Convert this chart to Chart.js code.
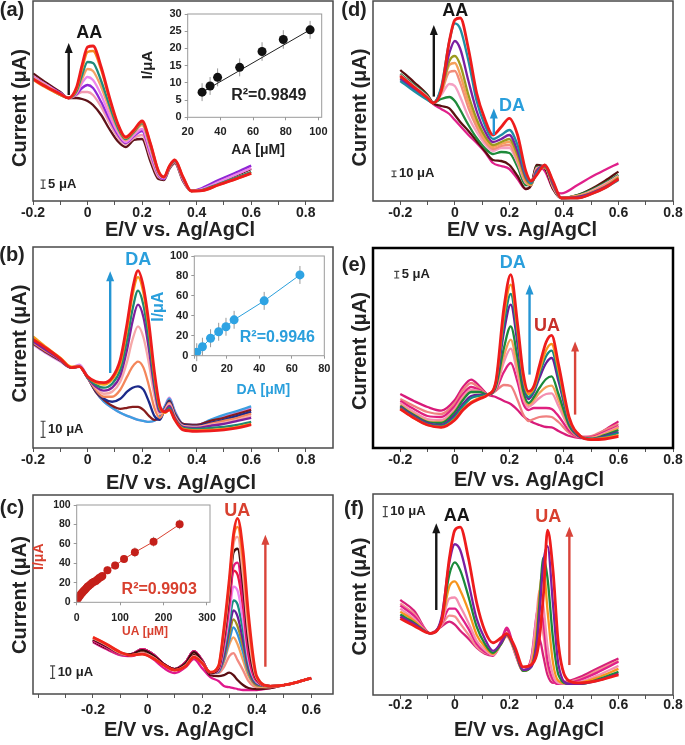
<!DOCTYPE html>
<html><head><meta charset="utf-8">
<script src="https://cdn.jsdelivr.net/npm/chart.js@4.4.1/dist/chart.umd.min.js"></script>
<style>
html,body{margin:0;padding:0;background:#fff;}
#wrap{position:relative;width:685px;height:745px;overflow:hidden;background:#fff;}
#wrap canvas{position:absolute;}
</style></head><body><div id="wrap"></div>
<script>
const FONT = '"Liberation Sans", Arial, Helvetica, sans-serif';

// ---------- x-axis ticks ----------
const xTicksMain = [-0.2,-0.1,0,0.1,0.2,0.3,0.4,0.5,0.6,0.7,0.8];
const xLabelsMain = ['-0.2','','0','','0.2','','0.4','','0.6','','0.8'];
const xTicksC = [-0.4,-0.3,-0.2,-0.1,0,0.1,0.2,0.3,0.4,0.5,0.6];
const xLabelsC = ['','','-0.2','','0','','0.2','','0.4','','0.6'];

// ---------- panel (a): AA ----------
const aPotential = [-0.2,-0.15,-0.1,-0.07,-0.04,-0.02,0,0.02,0.05,0.08,0.11,0.14,0.17,0.2,0.23,0.26,0.28,0.3,0.32,0.35,0.38,0.42,0.48,0.54,0.6];
const aRed    = [61,57,53.5,51.5,57,68,77,77.5,67,52,39,32,35.5,40,29,15,12,17.5,20.5,12,5,5.2,8,10.8,13.8];
const aOrange = [60.5,56.5,53,51.5,56,66,74.5,75,65.5,51,38.5,31.5,35,39.5,29,15,12,17.5,20.5,12,5,5.2,8,10.8,13.8];
const aTeal   = [61,57,53,51.5,55,63,69.5,69,60,48,37,31,34.5,39,28,14.5,12,17,20,11.5,5,5.5,8.5,11.5,14.5];
const aSandy  = [61.5,57.5,53.5,51.5,54.5,61,66,65,57,46,36,30.5,34,38,27,14,12,17,20,11.5,5,5.5,8.5,11.5,14.5];
const aViolet = [62,58,53.5,51.5,54,59,62,60.5,53,43,34.5,29.5,33,36,25,13.5,11.5,17,20,11,5,6,9.5,13,16.5];
const aPurple = [62,58,54,51.5,53.5,56.5,58,56.5,49.5,41,33.5,29,32.5,35,24,13,11,17,20,11,5,6.5,10.5,14,17.7];
const aPink   = [62.5,58,54,51.5,53,54.5,54.5,53,47,39,32,28.5,31.5,33,22,12,11,16.5,19.5,10.5,5,6,9.5,13,16.5];
const aBrown  = [63.8,59,54.5,51.5,51.5,51,50,48,43,36,30,27,30.5,31,20,11,10.5,16,19,10,5,6,9,12.5,16];
const aSeries = [aRed,aOrange,aTeal,aSandy,aViolet,aPurple,aPink,aBrown];
const aColors = ['#ee1c1c','#f7861e','#1f8b7c','#f5a266','#ec84ec','#8f27d6','#f29bb0','#5e1218'];

// ---------- panel (b): DA ----------
const bPotential = [-0.2,-0.15,-0.1,-0.06,-0.03,0,0.03,0.06,0.09,0.12,0.145,0.165,0.185,0.205,0.225,0.245,0.265,0.285,0.3,0.32,0.35,0.4,0.45,0.5,0.55,0.6];
const bRed     = [54,49.5,44.5,40,40.5,35.5,33,32.5,35,44,62,79,88.2,80,62,38,21,18,19,14,9,8.3,8.5,9,10,11.6];
const bOrange  = [55.5,50,45,40.5,40.5,35.5,32.5,31.5,34,42,59,76,85,77,59,36,20,17.5,19,14,9.5,8.8,9,9.5,10.5,12];
const bTeal    = [54.5,49.5,44.5,40,40.5,35,31.5,30,32,39,54,69,78.3,71,54,33,19,18,20,14.5,10,9.5,10,10.5,11.5,13];
const bPurple  = [53,48.5,44,40,40.5,35,30.5,28.5,30,36,49,63,71.3,65,49,30,18,18.5,21,15,10.5,10,11,12,13.5,15];
const bLtPink  = [53,48.5,44,40,40.5,35,30,27,28,33,43,54,60.5,55,42,26,17,19,22,15.5,11,10.5,11.5,12.5,14,16];
const bSalmon  = [52.5,48,44,40,40.5,35,29,25.5,25.5,29,35.5,40.5,43,40,31,20,15,19.5,22.5,16,11,10.5,12,13.5,15,17];
const bNavy    = [52.5,48,44,40,40.5,35,28.5,24.5,23,24.5,28,30,30.7,29,23,16,14,20,23,16.5,11.5,11,12.5,14,16,18];
const bMaroon  = [52,47.5,43.5,40,40.5,35,28,24,21,19.5,20,20.5,20.5,19,16,14,14.5,20,23.5,17,12,11.5,13.5,15,17,19];
const bLtBlue  = [52,47.5,43.5,40,40.5,35.5,28,23,20,17.5,16,15,14,13.5,13,13.5,16,21,24.5,18,12,11.5,14,16.5,18.5,20.7];
const bMagenta = [51.5,47,43,40,41.5,35.5,28,23,20,17.5,16,15,14,13.5,13,13.5,16,21.5,25,18.5,12,11.5,13.5,16,18,20];
const bSeries = [bRed,bOrange,bTeal,bPurple,bLtPink,bSalmon,bNavy,bMaroon,bLtBlue,bMagenta];
const bColors = ['#ee1c1c','#f59a16','#1e8a70','#7e1f9e','#f6a8a8','#f4865a','#1c2a8a','#861c1c','#3d9fe0','#df86df'];

// ---------- panel (c): UA ----------
const cPotential = [-0.2,-0.15,-0.1,-0.06,-0.02,0.02,0.06,0.1,0.14,0.17,0.2,0.23,0.26,0.28,0.3,0.315,0.33,0.35,0.37,0.4,0.45,0.5,0.55,0.6];
const cRed      = [28.5,25,21,19.5,20,18,14.5,12,14,18.5,15.5,11,14,33,58,80,88.3,72,40,9,4,4.5,6,8];
const cOrange   = [28.5,25,21,19.5,20,18,14.5,12,14,18.5,15.5,11,14,32,56,78,84,67,36,8.5,4,4.5,6,8];
const cLtSalmon = [28,24.5,20.5,19.5,20.5,18.5,14.5,12,14.5,19,16,11,13.5,30,54,75,79,60,30,8,4,4.5,6,8];
const cDkMaroon = [27.5,24,20.5,20,22,19.5,15,12.5,15.5,21,16.5,10.5,13,28,51,71,73,55,26,7.5,4,4.5,6,8];
const cMagenta  = [27,23.5,20,20,22.5,20,15,12.5,16,21.5,17,10.5,12.5,26,47,64,66,48,22,7,4,4.5,6,8];
const cCrimson  = [27,23.5,20,20,22.5,20,15,12.5,16,21.5,17,10.5,12.5,25,45,62,60,44,20,6.5,4,4.5,6,8];
const cViolet   = [27,23.5,20,20,22.5,20,15,12.5,16,21.5,17,10.5,12,23,40,54,52,37,17,6,4,4.5,6,8];
const cTeal     = [27,23.5,20,20,22.5,20,15,12.5,16,21.5,17,10.5,12,21,36,47,45,32,15,5.5,4,4.5,6,8];
const cPurple   = [27,23.5,20,20,22.5,20,15,12.5,16,21.5,17,10.5,11.5,19,33,42,39,27,13,5,4,4.5,6,8];
const cOlive    = [27,23.5,20,20,22.5,20,15,12.5,16,21.5,17,10.5,11.5,18,30,37.5,34,24,11.5,4.5,4,4.5,6,8];
const cBlue     = [27,23.5,20,20,22.5,20,15,12.5,16,21.5,17,10.5,11,17,27,33.5,30,21,10.5,4.5,4,4.5,6,8];
const cSandy    = [27,23.5,20,20,22,19.5,15,12.5,15.5,21,16.5,10.5,11,16,25,28.5,25,17,9,4,3.5,4.5,6,8];
const cSalmon   = [27,23.5,20,20,22,19.5,15,12.5,15.5,21,16.5,10.5,10.5,13.5,19,20.5,17,12,6.5,3.5,3.5,4.5,6,8];
const cMaroon2  = [26.5,23,20,19.5,21.5,19,14.5,12,15,20,16,9.5,9,9.5,10.7,9.5,7,4.5,3,2.5,3,4.5,6,8];
const cMagBase  = [26,22.5,19.5,19,20.5,17.5,13,10.5,13.5,17.5,13,8.5,6.5,4,3.4,3,2.5,2,2,2,3,4.5,6,8];
const cSeries = [cRed,cOrange,cLtSalmon,cDkMaroon,cMagenta,cCrimson,cViolet,cTeal,cPurple,cOlive,cBlue,cSandy,cSalmon,cMaroon2,cMagBase];
const cColors = ['#f0261c','#f98a2c','#f7a4a0','#3d0c0c','#e4197f','#e9183f','#ee86ee','#178f82','#6a1b9a','#a48d22','#2f8fd8','#f5a25d','#f28b82','#5b0e12','#e0188c'];

// ---------- panel (d): AA + DA ----------
const dPotential = [-0.2,-0.15,-0.1,-0.08,-0.05,-0.02,0,0.02,0.05,0.08,0.11,0.14,0.17,0.2,0.23,0.26,0.28,0.3,0.33,0.36,0.39,0.45,0.5,0.55,0.6];
const dRed     = [62.5,57,51.5,49,55,80,90.5,91.5,76,54,41,33,37,41.3,33,15,10,13,18,10,1.5,1.5,3.5,6.5,11];
const dTeal    = [60,55,50.5,49,57,80,88.8,86,70,50,38,31,33,35.5,28,13,9,14,18,9.5,1.5,1.5,3.5,6.5,10.5];
const dPurple  = [61,56,51,49,56,74,80,76,60,45,35,29.5,31,33,25,12,9,15,17.5,8.5,1.5,2,4,7,11];
const dOlive   = [61.5,56.5,51,49,55,70,72.5,68,53,41,32.5,28,29.5,31,23,11,8.5,15,17,8,1.5,2,4,7,11.5];
const dSandy   = [62,57,51.5,49,54.5,68,69,63,49.5,39,31,27,28.5,29.5,21.5,10,8,15.5,17,8,1.5,2.5,4.5,7.5,12];
const dSalmon  = [62.5,57,51.5,49,54,64.5,65,59,46.5,37,30,26,27.5,28,20,9.5,8,16,17,7.5,1.5,2.5,4.5,8,12];
const dPink    = [63,57.5,52,49,53,58.5,57.5,52,42,34.5,28.5,25,26.5,26.5,19,9,8,16.5,17,7,1.5,2.5,5,8.5,12.5];
const dGreen   = [63.5,58,52.5,49,51,52,50,45.5,38,31.5,26.5,23.5,24.5,24,17,8,8,17,17,7,1.5,3,5.5,9,13];
const dBrown   = [65.5,59.5,53,49,47.5,46.3,43,39.5,35,30,25,20.5,20,18,12.5,6,8,18,16.5,6,1.5,3,6,10,14.7];
const dMagenta = [63,58,52,48.5,46,43.5,40.5,37.5,33,29,24.5,19,17.5,16,11,6,8,17.5,15,6,3.8,8,12,15.5,18.8];
const dSeries = [dRed,dTeal,dPurple,dOlive,dSandy,dSalmon,dPink,dGreen,dBrown,dMagenta];
const dColors = ['#ee1c1c','#1f8ea3','#7b1fa2','#9c9a1e','#f5a05a','#f28d7a','#f5a0c3','#1e8a3a','#5a1010','#e0208a'];

// ---------- panel (e): DA + UA ----------
const ePotential = [-0.2,-0.15,-0.1,-0.05,0,0.03,0.06,0.09,0.12,0.15,0.18,0.205,0.23,0.25,0.27,0.29,0.31,0.335,0.355,0.38,0.42,0.46,0.5,0.55,0.6];
const eRed      = [19.5,15,11.5,10.3,14,19,22.5,24.5,26.5,33,70,86.7,62,38,28.3,31,41,53,56.3,42,15,6,4.2,4.5,5.8];
const eOrange   = [19.5,15,11.5,10.5,14.5,19.5,23,25,26.7,32.5,66,81.7,59,36,27,30,38.5,49,52,39,14,6,4.3,5,6.5];
const eTeal     = [20,15.5,12,11,15.5,21,25,26,26.7,32,62,77,56,34.5,25.5,29,37,46,48.7,36,13,6,4.5,5.5,7.5];
const ePurple   = [20.5,16,12.5,11.5,16.5,22,26,26.5,26.7,31.5,58,71.7,52,33,24.5,28,35,42.5,45,33.5,12.5,5.5,4.5,6,8];
const eGreen    = [21,16.5,13,12.5,18,24,28,28,26.7,30.5,50,60.8,45,29,22.5,25.5,30,34.5,35.8,27,11,5.5,4.5,6.5,9];
const eSandy    = [21.5,17,13.5,13,18.5,24.5,28,28,26.7,30,46,54.2,40,27,21.5,24,27.5,30.5,31.2,24,10.5,5.5,5,7,10];
const ePink     = [22.5,18,14.5,14,19.5,25.5,29,28.5,26.7,29.5,43,49.7,37,25,20.5,22.5,25,27,27.3,21,10,5.5,5,7.5,10.5];
const eMagenta  = [23.5,19.5,16,15.5,21,27,30.5,29,26.7,29,38,42.5,33,22.5,19,20,20,20,19.5,16,8.5,5.5,5.5,8,11];
const eSalmon   = [24.5,21,18,17,22.5,29,32.5,30,26.7,28.5,31.5,31,24,17,13.5,14.5,15.5,15.8,15.5,13,7.5,5.5,6,9,12];
const eDeepPink = [27,23.5,20.5,18.7,24,30.5,34.2,31,26.7,25.5,23.5,22,19,16,14,12.5,11.5,10.5,10.3,8.5,6,5,5,9,13.3];
const eSeries = [eRed,eOrange,eTeal,ePurple,eGreen,eSandy,ePink,eMagenta,eSalmon,eDeepPink];
const eColors = ['#ee1c1c','#f7941d','#128a80','#6a1b9a','#1a8a3a','#f5a05a','#f48fb1','#e0207f','#f08080','#d81b7a'];

// ---------- panel (f): AA + UA ----------
const fPotential = [-0.2,-0.15,-0.09,-0.05,-0.02,0,0.02,0.05,0.08,0.11,0.14,0.17,0.19,0.22,0.25,0.28,0.3,0.31,0.325,0.34,0.36,0.38,0.42,0.46,0.52,0.6];
const fRed      = [38,34.5,30.7,36,68,82,83.5,68,46,32,26,28.5,30.5,24,14,15,20,28,50,82,62,25,7,6,7,10];
const fPurple   = [39,35.5,30.7,38,66,75,72,56,38,28,22,26,30,23,12.5,14,25,40,66,74,45,15,5.5,5.5,7,10.5];
const fGreen    = [40,36,30.7,37,60,66,62,49,34,25.5,21,25.5,30,22.5,12,14,27,45,68.5,58,28,10,5.5,5.5,7.5,11.5];
const fOrange   = [41.5,37,30.7,36,54,56.5,52,42,30,24,20.5,25.5,29.5,22,12,15,32,50,63,42,16,7,5.5,6,8.5,13];
const fLtPink   = [43,38,30.7,35,48,48.5,44,36,27,22.5,20,25.5,29,21.5,12,17,40,52,44,24,10,6,5.5,6.5,9.5,14.5];
const fMagenta  = [44.5,39.5,30.7,35,43,43,39.5,33,25.5,21.5,20,27,33.5,22,12,18,40,45.5,36,17,7.5,5.5,6,7.5,11,16.5];
const fSalmon   = [45.5,40.5,30.7,34.5,39.5,39,35.5,30,24,21,20,26,31,21.5,12,18,35,39.8,30,14,7,5.5,6.5,8,12,17];
const fDeepPink = [47.3,42,30.7,34,36.5,35,32,28,23.5,20.5,19.5,26,32.5,21,12,17,27,28,19,10,6,6,7,9,13,18.2];
const fSeries = [fRed,fPurple,fGreen,fOrange,fLtPink,fMagenta,fSalmon,fDeepPink];
const fColors = ['#ee1c1c','#7b1fa2','#1a8a3a','#f7941d','#f48fb1','#e0208a','#f49090','#d6207a'];

// ---------- insets (calibration plots) ----------
const aaConc    = [28.8,33.7,38.3,51.8,65.5,78.5,94.9];
const aaCurrent = [7.3,9.1,11.6,14.5,19.1,22.6,25.4];
const aaError   = [2.6,2.6,2.6,2.6,2.7,2.7,2.6];
const aaFitConc = [27,97];
const aaFitCurrent = [6.8,26];
const aaTicksX = [20,40,60,80,100];
const aaTicksY = [0,5,10,15,20,25,30];

const daConc    = [1.5,5,10,15,19.5,24.5,43,65];
const daCurrent = [3.5,9,17.5,24,29,36,55,81];
const daError   = [9,9,9,9,9,9,9,9];
const daTicksX = [0,20,40,60,80];
const daTicksY = [0,20,40,60,80,100];

const uaConc    = [1.5,3,5,7.5,10,13,16,19,22,25,28,32,36,40,44,48,52,56,59,70.8,88.5,109,134,177,237];
const uaCurrent = [3.5,4.5,5.5,7,8.5,10,11.5,13,14.5,16,17,18.5,20,21,22,23.5,25,26,27,32.9,37.7,44.5,51.4,62.3,80.1];
const uaError   = [3,3,3,3,3,3,3,3,3,3,3,3,3,3,3,3,3,3,3,4,4,4,5,5,5];
const uaTicksX = [0,100,200,300];
const uaTicksY = [0,20,40,60,80,100];

// ---------- helpers ----------
function check(xs, list, name){
  list.forEach((s,i)=>{ if(s.length!==xs.length) throw new Error(name+' series '+i+' has '+s.length+' points, expected '+xs.length); });
}
check(aPotential,aSeries,'a'); check(bPotential,bSeries,'b'); check(cPotential,cSeries,'c');
check(dPotential,dSeries,'d'); check(ePotential,eSeries,'e'); check(fPotential,fSeries,'f');
check(aaConc,[aaCurrent,aaError],'aa'); check(daConc,[daCurrent,daError],'da'); check(uaConc,[uaCurrent,uaError],'ua');

function pts(xs, ys){ return xs.map((x,i)=>({x:x, y:ys[i]})); }

function makeCanvas(id, left, top, w, h){
  const c = document.createElement('canvas');
  c.id = id; c.width = w; c.height = h;
  c.style.left = left+'px'; c.style.top = top+'px';
  c.style.width = w+'px'; c.style.height = h+'px';
  document.getElementById('wrap').appendChild(c);
  return c;
}

function decorPlugin(cfg){
  return {
    id: 'decor',
    beforeDatasetsDraw(chart){
      const e = cfg.errors; if(!e) return;
      const ctx = chart.ctx, sx = chart.scales.x, sy = chart.scales.y;
      ctx.save(); ctx.strokeStyle = e.color; ctx.lineWidth = 1;
      e.xs.forEach((xv,i)=>{
        const px = sx.getPixelForValue(xv);
        ctx.beginPath();
        ctx.moveTo(px, sy.getPixelForValue(e.ys[i]-e.err[i]));
        ctx.lineTo(px, sy.getPixelForValue(e.ys[i]+e.err[i]));
        ctx.stroke();
      });
      ctx.restore();
    },
    afterDatasetsDraw(chart){
      const ctx = chart.ctx, a = chart.chartArea, sx = chart.scales.x, sy = chart.scales.y;
      ctx.save();
      if (cfg.frame){
        ctx.strokeStyle = cfg.frame.color; ctx.lineWidth = cfg.frame.width;
        ctx.strokeRect(a.left, a.top, a.right-a.left, a.bottom-a.top);
      }
      (cfg.arrows||[]).forEach(r=>{
        const px = sx.getPixelForValue(r.x), p0 = sy.getPixelForValue(r.y0), p1 = sy.getPixelForValue(r.y1);
        ctx.strokeStyle = r.color; ctx.fillStyle = r.color; ctx.lineWidth = 2.4;
        ctx.beginPath(); ctx.moveTo(px, p0); ctx.lineTo(px, p1+6); ctx.stroke();
        ctx.beginPath(); ctx.moveTo(px, p1); ctx.lineTo(px-4, p1+10); ctx.lineTo(px+4, p1+10); ctx.closePath(); ctx.fill();
      });
      if (cfg.bar){
        const b = cfg.bar;
        const px = sx.getPixelForValue(b.x), p0 = sy.getPixelForValue(b.y0), p1 = sy.getPixelForValue(b.y1);
        ctx.strokeStyle = '#444'; ctx.lineWidth = 1.2;
        ctx.beginPath();
        ctx.moveTo(px,p0); ctx.lineTo(px,p1);
        ctx.moveTo(px-2.5,p0); ctx.lineTo(px+2.5,p0);
        ctx.moveTo(px-2.5,p1); ctx.lineTo(px+2.5,p1);
        ctx.stroke();
        ctx.fillStyle = '#222'; ctx.font = 'bold 13px '+FONT; ctx.textAlign = 'left'; ctx.textBaseline = 'middle';
        ctx.fillText(b.t, px+5, (p0+p1)/2);
      }
      (cfg.texts||[]).forEach(t=>{
        let px = t.px, py = t.py;
        if (t.x !== undefined){ px = sx.getPixelForValue(t.x); py = sy.getPixelForValue(t.y); }
        ctx.save(); ctx.translate(px, py); if (t.rot) ctx.rotate(t.rot);
        ctx.font = t.font; ctx.fillStyle = t.color || '#222';
        ctx.textAlign = 'center'; ctx.textBaseline = 'middle';
        ctx.fillText(t.t, 0, 0); ctx.restore();
      });
      ctx.restore();
    }
  };
}

function mainChart(p){
  const c = makeCanvas('panel_'+p.id, p.left, p.top, p.w, p.h);
  const datasets = p.series.map((ys,i)=>({
    data: pts(p.xs, ys), borderColor: p.colors[i], borderWidth: i===0 ? 2.8 : 2.3,
    pointRadius: 0, fill: false, cubicInterpolationMode: 'monotone'
  }));
  const texts = [
    {t:p.letter, px:p.letterPos[0], py:p.letterPos[1], font:'bold 20px '+FONT, color:'#222'},
    {t:'Current (μA)', px:20, py:p.yTitleY, rot:-Math.PI/2, font:'bold 20px '+FONT, color:'#222'},
    {t:'E/V vs. Ag/AgCl', px:p.xTitlePos[0], py:p.xTitlePos[1], font:'bold 20px '+FONT, color:'#222'}
  ].concat(p.notes.map(n=>({t:n.t, x:n.x, y:n.y, color:n.color, font:'bold 18px '+FONT})));
  new Chart(c, {
    type: 'line',
    data: {datasets},
    options: {
      responsive:false, animation:false, devicePixelRatio:1, events:[],
      layout:{padding:{left:p.pad[0], top:p.pad[1], right:p.pad[2], bottom:0}},
      plugins:{legend:{display:false}, tooltip:{enabled:false}},
      scales:{
        x:{type:'linear', min:p.min, max:p.max,
          afterFit:s=>{ s.height = p.xAxisH; s.paddingLeft = 0; s.paddingRight = 0; },
          afterBuildTicks:s=>{ s.ticks = p.ticks.map(v=>({value:v})); },
          ticks:{autoSkip:false, maxRotation:0, minRotation:0, padding:p.tickPad, color:'#222',
            font:{family:FONT, size:14, weight:'bold'}, callback:(v,i)=>p.tickLabels[i]},
          grid:{display:true, drawOnChartArea:false, drawTicks:true, tickLength:4, color:'#555', lineWidth:1},
          border:{display:false}
        },
        y:{type:'linear', min:0, max:100, display:false}
      }
    },
    plugins:[decorPlugin({frame:p.frame, arrows:p.arrows, bar:p.bar, texts})]
  });
}

function insetChart(q){
  const c = makeCanvas('inset_'+q.id, q.left, q.top, q.w, q.h);
  const datasets = [{
    type:'scatter', data: pts(q.xs, q.ys), showLine: q.connect, borderColor: q.lineColor, borderWidth: 1,
    backgroundColor: q.dotColor, pointRadius: q.r, pointBorderWidth: 0
  }];
  if (q.fitX) datasets.push({type:'line', data: pts(q.fitX, q.fitY), borderColor: q.lineColor, borderWidth: 1, pointRadius: 0});
  const tickFont = {family:FONT, size:q.fs, weight:'bold'};
  new Chart(c, {
    type:'scatter',
    data:{datasets},
    options:{
      responsive:false, animation:false, devicePixelRatio:1, events:[],
      layout:{padding:{left:0, top:q.pad[0], right:q.pad[1], bottom:0}},
      plugins:{legend:{display:false}, tooltip:{enabled:false}},
      scales:{
        x:{type:'linear', min:q.xMin, max:q.xMax,
          afterFit:s=>{ s.height = q.xH; s.paddingLeft = 0; s.paddingRight = 0; },
          afterBuildTicks:s=>{ s.ticks = q.xTicks.map(v=>({value:v})); },
          ticks:{autoSkip:false, maxRotation:0, padding:q.xPad, color:'#222', font:tickFont, callback:(v,i)=>String(q.xTicks[i])},
          grid:{display:true, drawOnChartArea:false, tickLength:3, color:'#999'}, border:{display:false}},
        y:{type:'linear', min:q.yMin, max:q.yMax,
          afterFit:s=>{ s.width = q.yW; s.paddingTop = 0; s.paddingBottom = 0; },
          afterBuildTicks:s=>{ s.ticks = q.yTicks.map(v=>({value:v})); },
          ticks:{autoSkip:false, padding:3, color:'#222', font:tickFont, callback:(v,i)=>String(q.yTicks[i])},
          grid:{display:true, drawOnChartArea:false, tickLength:3, color:'#999'}, border:{display:false}}
      }
    },
    plugins:[decorPlugin({
      frame:{color:'#9a9a9a', width:1},
      errors:{xs:q.xs, ys:q.ys, err:q.err, color:'#999'},
      texts:[
        {t:'I/μA', px:q.yTitle[0], py:q.yTitle[1], rot:-Math.PI/2, font:'bold '+q.yTitle[2]+'px '+FONT, color:q.titleColor},
        {t:q.xTitleText, px:q.xTitle[0], py:q.xTitle[1], font:'bold '+q.xTitle[2]+'px '+FONT, color:q.titleColor},
        {t:q.r2, x:q.r2Pos[0], y:q.r2Pos[1], font:'bold 16px '+FONT, color:q.titleColor}
      ]
    })]
  });
}

const BLACK = '#151515', BLUE = '#2a9fdc', RED = '#d8402f';
const grayFrame = {color:'#4a4a4a', width:1.5};

mainChart({id:'a', left:0, top:0, w:340, h:247, pad:[33,1,7], xAxisH:46, min:-0.2, max:0.9,
  ticks:xTicksMain, tickLabels:xLabelsMain, tickPad:0, xs:aPotential, series:aSeries, colors:aColors, frame:grayFrame,
  letter:'(a)', letterPos:[12,10], yTitleY:108, xTitlePos:[180,230],
  notes:[{t:'AA', x:0.006, y:83.8, color:BLACK}],
  arrows:[{x:-0.069, y0:53, y1:79, color:BLACK}],
  bar:{x:-0.163, y0:6.3, y1:10.5, t:'5 μA'}});

mainChart({id:'b', left:0, top:245, w:340, h:250, pad:[33,2,7], xAxisH:47, min:-0.2, max:0.9,
  ticks:xTicksMain, tickLabels:xLabelsMain, tickPad:0, xs:bPotential, series:bSeries, colors:bColors, frame:grayFrame,
  letter:'(b)', letterPos:[12,10], yTitleY:98.5, xTitlePos:[181,238],
  notes:[{t:'DA', x:0.186, y:93.7, color:BLUE}],
  arrows:[{x:0.083, y0:37.3, y1:87.9, color:'#2596d4'}],
  bar:{x:-0.163, y0:5.3, y1:13.3, t:'10 μA'}});

mainChart({id:'c', left:0, top:490, w:340, h:255, pad:[33,5,7], xAxisH:51, min:-0.42, max:0.68,
  ticks:xTicksC, tickLabels:xLabelsC, tickPad:3.5, xs:cPotential, series:cSeries, colors:cColors, frame:grayFrame,
  letter:'(c)', letterPos:[12,18], yTitleY:105, xTitlePos:[179,240],
  notes:[{t:'UA', x:0.329, y:92.1, color:RED}],
  arrows:[{x:0.432, y0:13.7, y1:80, color:'#d9443a'}],
  bar:{x:-0.348, y0:7.9, y1:14.1, t:'10 μA'}});

mainChart({id:'d', left:340, top:0, w:345, h:247, pad:[33,1,12], xAxisH:46, min:-0.3, max:0.8,
  ticks:xTicksMain, tickLabels:xLabelsMain, tickPad:0, xs:dPotential, series:dSeries, colors:dColors, frame:grayFrame,
  letter:'(d)', letterPos:[14,10], yTitleY:107.5, xTitlePos:[182,230],
  notes:[{t:'AA', x:0.002, y:95.2, color:BLACK},{t:'DA', x:0.21, y:47.5, color:BLUE}],
  arrows:[{x:-0.077, y0:52.2, y1:88, color:BLACK},{x:0.143, y0:33, y1:46.3, color:'#2596d4'}],
  bar:{x:-0.223, y0:12.2, y1:15, t:'10 μA'}});

mainChart({id:'e', left:340, top:245, w:345, h:250, pad:[33,3,12], xAxisH:47, min:-0.3, max:0.8,
  ticks:xTicksMain, tickLabels:xLabelsMain, tickPad:0, xs:ePotential, series:eSeries, colors:eColors, frame:{color:'#000', width:2.5},
  letter:'(e)', letterPos:[14,20], yTitleY:106, xTitlePos:[189,235],
  notes:[{t:'DA', x:0.212, y:92.5, color:BLUE},{t:'UA', x:0.338, y:61.2, color:'#c8302a'}],
  arrows:[{x:0.274, y0:36.7, y1:81.7, color:'#2596d4'},{x:0.441, y0:16.7, y1:53.3, color:'#d9443a'}],
  bar:{x:-0.213, y0:85, y1:88.3, t:'5 μA'}});

mainChart({id:'f', left:340, top:490, w:345, h:255, pad:[33,4,12], xAxisH:50, min:-0.3, max:0.8,
  ticks:xTicksMain, tickLabels:xLabelsMain, tickPad:-2, xs:fPotential, series:fSeries, colors:fColors, frame:grayFrame,
  letter:'(f)', letterPos:[14,19], yTitleY:106.5, xTitlePos:[189,240],
  notes:[{t:'AA', x:0.007, y:89, color:BLACK},{t:'UA', x:0.343, y:88.7, color:RED}],
  arrows:[{x:-0.068, y0:42.3, y1:85.4, color:BLACK},{x:0.42, y0:14.9, y1:83.7, color:'#d9443a'}],
  bar:{x:-0.255, y0:88.7, y1:93.7, t:'10 μA'}});

insetChart({id:'aa', left:140, top:6, w:195, h:156, pad:[8,13.3], yW:47.7, xH:44.7,
  xMin:20, xMax:102, yMin:0, yMax:30, xTicks:aaTicksX, yTicks:aaTicksY, fs:11, xPad:5.5,
  xs:aaConc, ys:aaCurrent, err:aaError, fitX:aaFitConc, fitY:aaFitCurrent, connect:false,
  lineColor:'#222', dotColor:'#111', r:4.5, titleColor:'#222',
  yTitle:[8.3,59,15], xTitle:[118,144,14], xTitleText:'AA [μM]', r2:'R²=0.9849', r2Pos:[69.6,6.2]});

insetChart({id:'da', left:140, top:250, w:195, h:150, pad:[6,10.7], yW:54.3, xH:44.3,
  xMin:0, xMax:80, yMin:0, yMax:100, xTicks:daTicksX, yTicks:daTicksY, fs:11, xPad:3.7,
  xs:daConc, ys:daCurrent, err:daError, connect:true,
  lineColor:BLUE, dotColor:'#2ea3e3', r:4.5, titleColor:BLUE,
  yTitle:[18.3,56.7,16], xTitle:[123.3,140,14], xTitleText:'DA [μM]', r2:'R²=0.9946', r2Pos:[51.1,18.5]});

insetChart({id:'ua', left:0, top:495, w:225, h:150, pad:[10,15], yW:76.7, xH:42.7,
  xMin:0, xMax:307, yMin:0, yMax:100, xTicks:uaTicksX, yTicks:uaTicksY, fs:10.5, xPad:6.5,
  xs:uaConc, ys:uaCurrent, err:uaError, connect:true,
  lineColor:RED, dotColor:'#c4201a', r:4, titleColor:RED,
  yTitle:[39.3,61.7,14], xTitle:[145,136.7,12], xTitleText:'UA [μM]', r2:'R²=0.9903', r2Pos:[190,12.6]});
</script></body></html>
